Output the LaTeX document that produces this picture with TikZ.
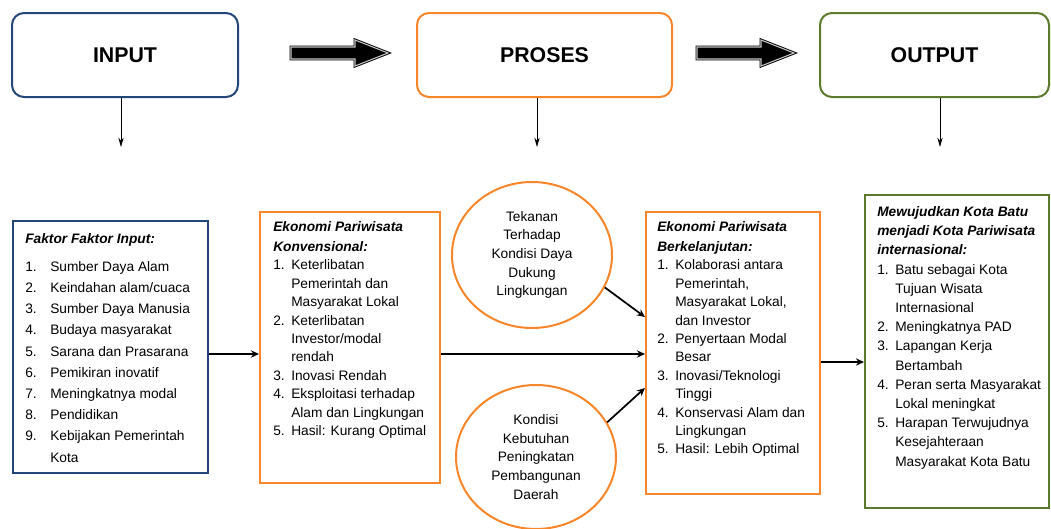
\documentclass[tikz,border=0pt]{standalone}
\usepackage{fontspec}
\setmainfont{Liberation Sans}
\usepackage{tikz}
\usetikzlibrary{fit,shapes.geometric,arrows.meta}
\definecolor{inblue}{HTML}{23467A}
\definecolor{procorange}{HTML}{F7862B}
\definecolor{outgreen}{HTML}{5B7A2C}
\begin{document}
\begin{tikzpicture}[
  x=0.75pt, y=-0.75pt,
  topbox/.style={draw,line width=1.5pt,rounded corners=9pt,inner sep=0pt},
  listbox/.style={draw,line width=1.6pt,inner sep=0pt},
  topfont/.style={font=\fontsize{16}{19}\selectfont\bfseries},
  listtext/.style={anchor=base west,inner sep=0pt},
  bubble/.style={ellipse,draw=procorange,line width=1.5pt,minimum width=120pt,minimum height=109.5pt,
    inner sep=0pt,align=center,font=\fontsize{10.3}{14}\selectfont},
  blockarrow/.style={fill=black,draw=black,line width=0.7pt,double=gray!45,double distance=0.8pt},
  flow/.style={line width=1.3pt,-{Stealth[length=6pt,width=5.5pt]}},
  down/.style={line width=0.6pt,-{Stealth[length=7pt,width=4pt]}}
]
  \useasboundingbox (0,0) rectangle (1051,529);

  \node[topbox,draw=inblue,fit={(12,13) (238,97)},label={[topfont]center:INPUT}] (input) {};
  \node[topbox,draw=procorange,fit={(417,13) (672,97)},label={[topfont]center:PROSES}] (proses) {};
  \node[topbox,draw=outgreen,fit={(820,13) (1049,97)},label={[topfont]center:OUTPUT}] (output) {};

  \draw[blockarrow] (291,47) -- (355,47) -- (355,40) -- (388,53) -- (355,66) -- (355,59) -- (291,59) -- cycle;
  \draw[blockarrow] (697,47) -- (761,47) -- (761,40) -- (794,53) -- (761,66) -- (761,59) -- (697,59) -- cycle;

  \draw[down] (input.south -| 121,0) -- (121,147);
  \draw[down] (proses.south -| 537,0) -- (537,147);
  \draw[down] (output.south -| 940,0) -- (940,147);

  \node[listbox,draw=inblue,fit={(13,221) (208,473)}] (faktor) {};
  \node[listbox,draw=procorange,fit={(260,212) (440,483)}] (konv) {};
  \node[listbox,draw=procorange,fit={(646,212) (820,494)}] (berk) {};
  \node[listbox,draw=outgreen,fit={(865,195) (1049,508)}] (hasil) {};

  \node[bubble] (tekanan) at (532,255) {Tekanan\\Terhadap\\Kondisi Daya\\Dukung\\Lingkungan};
  \node[bubble,minimum height=108pt] (kondisi) at (536,457) {Kondisi\\Kebutuhan\\Peningkatan\\Pembangunan\\Daerah};

  \node[listtext] (faktortxt) at (25,243) {\fontsize{10.3}{15.9}\selectfont
    \begin{tabular}[t]{@{}p{18.75pt}@{}l@{}}
      \multicolumn{2}{@{}l@{}}{\textbf{\textit{Faktor Faktor Input:}}}\\[5.3pt]
      1. & Sumber Daya Alam\\
      2. & Keindahan alam/cuaca\\
      3. & Sumber Daya Manusia\\
      4. & Budaya masyarakat\\
      5. & Sarana dan Prasarana\\
      6. & Pemikiran inovatif\\
      7. & Meningkatnya modal\\
      8. & Pendidikan\\
      9. & Kebijakan Pemerintah\\
         & Kota
    \end{tabular}};

  \node[listtext] (konvtxt) at (273,231.5) {\fontsize{10.3}{13.8}\selectfont
    \begin{tabular}[t]{@{}p{13.5pt}@{}l@{}}
      \multicolumn{2}{@{}l@{}}{\textbf{\textit{Ekonomi Pariwisata}}}\\[1.2pt]
      \multicolumn{2}{@{}l@{}}{\textbf{\textit{Konvensional:}}}\\
      1. & Keterlibatan\\
         & Pemerintah dan\\
         & Masyarakat Lokal\\
      2. & Keterlibatan\\
         & Investor/modal\\
         & rendah\\
      3. & Inovasi Rendah\\
      4. & Eksploitasi terhadap\\
         & Alam dan Lingkungan\\
      5. & Hasil: Kurang Optimal
    \end{tabular}};

  \node[listtext] (berktxt) at (657,231.5) {\fontsize{10.3}{13.8}\selectfont
    \begin{tabular}[t]{@{}p{13.5pt}@{}l@{}}
      \multicolumn{2}{@{}l@{}}{\textbf{\textit{Ekonomi Pariwisata}}}\\[1.2pt]
      \multicolumn{2}{@{}l@{}}{\textbf{\textit{Berkelanjutan:}}}\\
      1. & Kolaborasi antara\\
         & Pemerintah,\\
         & Masyarakat Lokal,\\
         & dan Investor\\
      2. & Penyertaan Modal\\
         & Besar\\
      3. & Inovasi/Teknologi\\
         & Tinggi\\
      4. & Konservasi Alam dan\\
         & Lingkungan\\
      5. & Hasil: Lebih Optimal
    \end{tabular}};

  \node[listtext] (hasiltxt) at (877,216.5) {\fontsize{10.3}{14.4}\selectfont
    \begin{tabular}[t]{@{}p{13.5pt}@{}l@{}}
      \multicolumn{2}{@{}l@{}}{\textbf{\textit{Mewujudkan Kota Batu}}}\\
      \multicolumn{2}{@{}l@{}}{\textbf{\textit{menjadi Kota Pariwisata}}}\\
      \multicolumn{2}{@{}l@{}}{\textbf{\textit{internasional:}}}\\
      1. & Batu sebagai Kota\\
         & Tujuan Wisata\\
         & Internasional\\
      2. & Meningkatnya PAD\\
      3. & Lapangan Kerja\\
         & Bertambah\\
      4. & Peran serta Masyarakat\\
         & Lokal meningkat\\
      5. & Harapan Terwujudnya\\
         & Kesejahteraan\\
         & Masyarakat Kota Batu
    \end{tabular}};

  \draw[flow] (faktor.east |- 0,354) -- (konv.west |- 0,354);
  \draw[flow] (konv.east |- 0,354) -- (berk.west |- 0,354);
  \draw[flow] (tekanan.-24) -- (berk.west |- 0,317);
  \draw[flow] (kondisi.26) -- (berk.west |- 0,388);
  \draw[flow] (berk.east |- 0,362) -- (hasil.west |- 0,362);
\end{tikzpicture}
\end{document}
